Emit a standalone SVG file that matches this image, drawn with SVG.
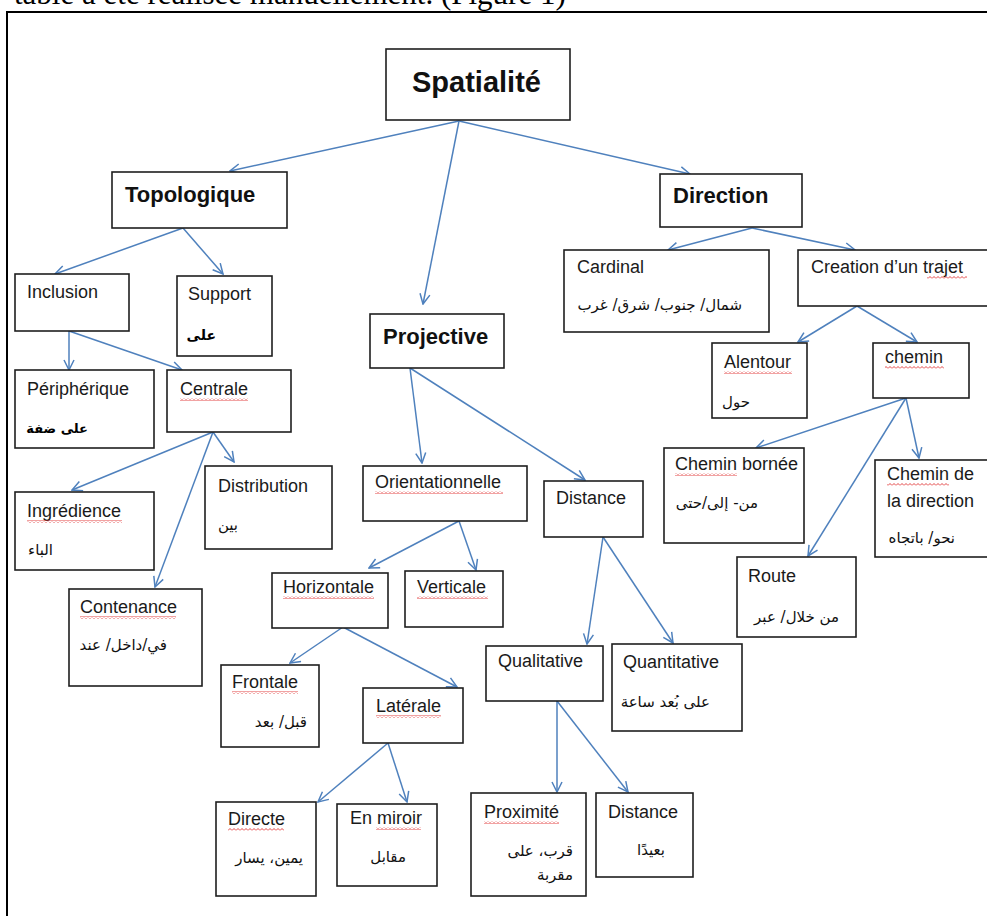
<svg xmlns="http://www.w3.org/2000/svg" width="987" height="916" viewBox="0 0 987 916">
<style>
.box{fill:#fff;stroke:#1e1e1e;stroke-width:1.6}
.t{font-family:"Liberation Sans",Arial,sans-serif;font-size:18px;fill:#1a1a1a}
.h{font-family:"Liberation Sans",Arial,sans-serif;font-size:22px;font-weight:bold;fill:#111}
.ar{font-family:"DejaVu Sans","Noto Sans",sans-serif;font-size:15px;fill:#111;text-anchor:end}
.arb{font-family:"DejaVu Sans","Noto Sans",sans-serif;font-size:13px;font-weight:bold;fill:#000;text-anchor:end}
.c line{stroke:#4f81bd;stroke-width:1.5;marker-end:url(#ah)}
.sq{fill:url(#sq)}
</style>
<defs>
<marker id="ah" viewBox="0 0 12 12" refX="11" refY="6" markerWidth="12" markerHeight="12" markerUnits="userSpaceOnUse" orient="auto">
<path d="M1,1 L11,6 L1,11" fill="none" stroke="#4f81bd" stroke-width="1.5"/>
</marker>
<pattern id="sq" width="4" height="3" patternUnits="userSpaceOnUse">
<path d="M0,2.5 L2,0.5 L4,2.5" fill="none" stroke="#e03030" stroke-width="0.9"/>
</pattern>
</defs>
<rect width="987" height="916" fill="#fff"/>
<text x="14" y="4" font-family="Liberation Serif,'Times New Roman',serif" font-size="31" fill="#000">table a été réalisée manuellement. (Figure 1)</text>
<rect x="7" y="12" width="1000" height="920" fill="none" stroke="#000" stroke-width="2"/>

<g class="c" id="connectors">
<line x1="459" y1="121" x2="230" y2="171"/>
<line x1="459" y1="121" x2="423" y2="304"/>
<line x1="459" y1="121" x2="690" y2="174"/>
<line x1="183" y1="228" x2="55" y2="274"/>
<line x1="183" y1="228" x2="223" y2="274"/>
<line x1="69" y1="331" x2="69" y2="370"/>
<line x1="69" y1="331" x2="182" y2="370"/>
<line x1="213" y1="432" x2="72" y2="490"/>
<line x1="213" y1="432" x2="234" y2="462"/>
<line x1="213" y1="432" x2="155" y2="587"/>
<line x1="410" y1="368" x2="422" y2="463"/>
<line x1="410" y1="368" x2="585" y2="480"/>
<line x1="459" y1="521" x2="369" y2="568"/>
<line x1="459" y1="521" x2="476" y2="570"/>
<line x1="343" y1="627" x2="290" y2="663"/>
<line x1="343" y1="627" x2="457" y2="687"/>
<line x1="388" y1="743" x2="318" y2="802"/>
<line x1="388" y1="743" x2="407" y2="802"/>
<line x1="603" y1="537" x2="587" y2="644"/>
<line x1="603" y1="537" x2="673" y2="643"/>
<line x1="557" y1="701" x2="557" y2="792"/>
<line x1="557" y1="701" x2="628" y2="792"/>
<line x1="752" y1="228" x2="668" y2="250"/>
<line x1="752" y1="228" x2="855" y2="250"/>
<line x1="857" y1="306" x2="798" y2="342"/>
<line x1="857" y1="306" x2="917" y2="342"/>
<line x1="906" y1="398" x2="756" y2="448"/>
<line x1="906" y1="398" x2="808" y2="556"/>
<line x1="906" y1="398" x2="919" y2="458"/>
</g>

<g id="spatialite"><rect class="box" x="386" y="49" width="184" height="71"/><text x="412" y="92" class="h" style="font-size:29px">Spatialité</text></g>
<g id="topologique"><rect class="box" x="112" y="172" width="175" height="56"/><text x="125" y="202" class="h">Topologique</text></g>
<g id="projective"><rect class="box" x="370" y="314" width="134" height="54"/><text x="383" y="344" class="h">Projective</text></g>
<g id="direction"><rect class="box" x="660" y="174" width="142" height="53"/><text x="673" y="203" class="h">Direction</text></g>

<g id="inclusion"><rect class="box" x="15" y="274" width="114" height="57"/><text x="27" y="298" class="t">Inclusion</text></g>
<g id="support"><rect class="box" x="177" y="276" width="95" height="80"/><text x="188" y="300" class="t">Support</text><text x="216" y="340" class="arb" style="font-size:14px">على</text></g>
<g id="peripherique"><rect class="box" x="15" y="370" width="139" height="78"/><text x="27" y="395" class="t">Périphérique</text><text x="88" y="433" class="arb">على ضفة</text></g>
<g id="centrale"><rect class="box" x="167" y="370" width="124" height="62"/><text x="180" y="395" class="t">Centrale</text><rect class="sq" x="180" y="398" width="68" height="3"/></g>
<g id="ingredience"><rect class="box" x="15" y="492" width="139" height="78"/><text x="27" y="517" class="t">Ingrédience</text><rect class="sq" x="27" y="520" width="95" height="3"/><text x="53" y="555" class="ar">الباء</text></g>
<g id="distribution"><rect class="box" x="205" y="466" width="127" height="83"/><text x="218" y="492" class="t">Distribution</text><text x="238" y="530" class="ar">بين</text></g>
<g id="contenance"><rect class="box" x="69" y="589" width="133" height="97"/><text x="80" y="613" class="t">Contenance</text><rect class="sq" x="80" y="616" width="96" height="3"/><text x="167" y="650" class="ar">في/داخل/ عند</text></g>

<g id="orientationnelle"><rect class="box" x="363" y="466" width="164" height="55"/><text x="375" y="488" class="t">Orientationnelle</text><rect class="sq" x="375" y="491" width="128" height="3"/></g>
<g id="distance"><rect class="box" x="544" y="481" width="99" height="56"/><text x="556" y="504" class="t">Distance</text></g>
<g id="horizontale"><rect class="box" x="272" y="573" width="116" height="55"/><text x="283" y="593" class="t">Horizontale</text><rect class="sq" x="283" y="596" width="91" height="3"/></g>
<g id="verticale"><rect class="box" x="405" y="571" width="98" height="56"/><text x="417" y="593" class="t">Verticale</text><rect class="sq" x="417" y="596" width="71" height="3"/></g>
<g id="frontale"><rect class="box" x="221" y="665" width="98" height="82"/><text x="232" y="688" class="t">Frontale</text><rect class="sq" x="232" y="691" width="66" height="3"/><text x="307" y="727" class="ar">قبل/ بعد</text></g>
<g id="laterale"><rect class="box" x="363" y="688" width="100" height="55"/><text x="376" y="712" class="t">Latérale</text><rect class="sq" x="376" y="715" width="65" height="3"/></g>
<g id="directe"><rect class="box" x="216" y="802" width="100" height="94"/><text x="228" y="825" class="t">Directe</text><rect class="sq" x="228" y="828" width="56" height="3"/><text x="303" y="863" class="ar">يمين، يسار</text></g>
<g id="enmiroir"><rect class="box" x="337" y="804" width="100" height="82"/><text x="350" y="824" class="t">En miroir</text><rect class="sq" x="376" y="827" width="45" height="3"/><text x="406" y="862" class="ar">مقابل</text></g>
<g id="qualitative"><rect class="box" x="486" y="646" width="117" height="55"/><text x="498" y="667" class="t">Qualitative</text></g>
<g id="quantitative"><rect class="box" x="612" y="644" width="130" height="87"/><text x="623" y="668" class="t">Quantitative</text><text x="710" y="707" class="ar">على بُعد ساعة</text></g>
<g id="proximite"><rect class="box" x="471" y="793" width="115" height="103"/><text x="484" y="818" class="t">Proximité</text><rect class="sq" x="484" y="821" width="75" height="3"/><text x="573" y="856" class="ar">قرب، على</text><text x="573" y="880" class="ar">مقربة</text></g>
<g id="distance2"><rect class="box" x="596" y="793" width="97" height="84"/><text x="608" y="818" class="t">Distance</text><text x="665" y="855" class="ar">بعيدًا</text></g>

<g id="cardinal"><rect class="box" x="564" y="250" width="205" height="82"/><text x="577" y="273" class="t">Cardinal</text><text x="742" y="310" class="ar">شمال/ جنوب/ شرق/ غرب</text></g>
<g id="creation"><rect class="box" x="798" y="250" width="200" height="56"/><text x="811" y="273" class="t">Creation d’un trajet</text><rect class="sq" x="927" y="276" width="40" height="3"/></g>
<g id="alentour"><rect class="box" x="712" y="343" width="95" height="75"/><text x="724" y="368" class="t">Alentour</text><rect class="sq" x="724" y="371" width="68" height="3"/><text x="750" y="407" class="ar">حول</text></g>
<g id="chemin"><rect class="box" x="873" y="343" width="96" height="55"/><text x="885" y="363" class="t">chemin</text><rect class="sq" x="885" y="366" width="59" height="3"/></g>
<g id="cheminbornee"><rect class="box" x="664" y="448" width="140" height="95"/><text x="675" y="470" class="t">Chemin bornée</text><rect class="sq" x="675" y="473" width="62" height="3"/><text x="758" y="508" class="ar">من- إلى/حتى</text></g>
<g id="chemindirection"><rect class="box" x="875" y="460" width="130" height="97"/><text x="887" y="480" class="t">Chemin de</text><rect class="sq" x="887" y="483" width="62" height="3"/><text x="887" y="507" class="t">la direction</text><text x="955" y="543" class="ar">نحو/ باتجاه</text></g>
<g id="route"><rect class="box" x="737" y="557" width="119" height="80"/><text x="748" y="582" class="t">Route</text><text x="839" y="622" class="ar">من خلال/ عبر</text></g>
</svg>
